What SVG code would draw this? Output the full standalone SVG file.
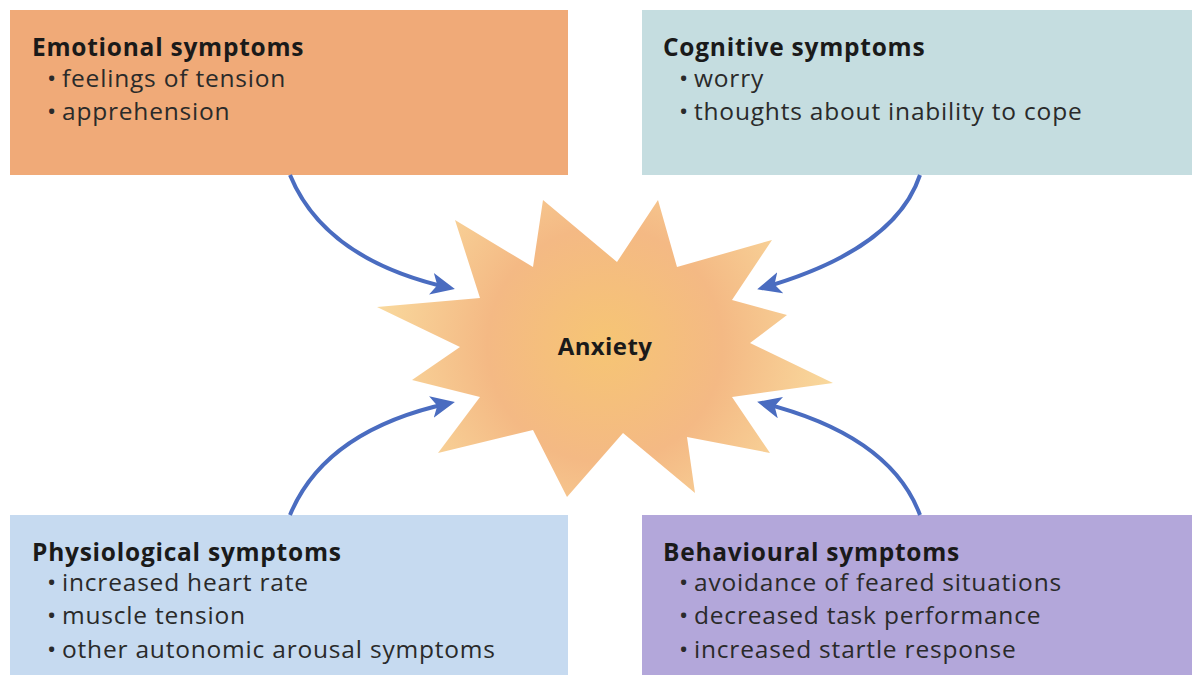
<svg xmlns="http://www.w3.org/2000/svg" width="1192" height="675" viewBox="0 0 1192 675">
<defs>
<style>
.title{font-family:"Open Sans","Noto Sans",sans-serif;font-weight:bold;font-size:24.5px;letter-spacing:0.75px;fill:#1a1a1a}
.item{font-family:"Open Sans","Noto Sans",sans-serif;font-size:24.5px;letter-spacing:0.8px;fill:#2a2a2a}
.conn{fill:none;stroke:#4a6cc0;stroke-width:4;marker-end:url(#ah)}
</style>
<marker id="ah" markerUnits="userSpaceOnUse" markerWidth="26" markerHeight="22" refX="19" refY="11" orient="auto">
<path d="M0,0 L24,11 L0,22 L6,11 Z" fill="#4a6cc0"/>
</marker>
<radialGradient id="burst" cx="605" cy="345" r="235" gradientUnits="userSpaceOnUse">
<stop offset="0" stop-color="#f6c574"/>
<stop offset="0.5" stop-color="#f4b984"/>
<stop offset="1" stop-color="#f9da9e"/>
</radialGradient>
</defs>
<rect width="1192" height="675" fill="#ffffff"/>
<g id="emotional">
<rect x="10" y="10" width="558" height="165" fill="#f0aa78"/>
<text class="title" x="32" y="56">Emotional symptoms</text>
<text class="item" y="87"><tspan x="47">•</tspan><tspan x="62">feelings of tension</tspan></text>
<text class="item" y="120"><tspan x="47">•</tspan><tspan x="62">apprehension</tspan></text>
</g>
<g id="cognitive">
<rect x="642" y="10" width="550" height="165" fill="#c5dde0"/>
<text class="title" x="663" y="56">Cognitive symptoms</text>
<text class="item" y="87"><tspan x="679">•</tspan><tspan x="694">worry</tspan></text>
<text class="item" y="120"><tspan x="679">•</tspan><tspan x="694">thoughts about inability to cope</tspan></text>
</g>
<g id="physiological">
<rect x="10" y="515" width="558" height="160" fill="#c6daf0"/>
<text class="title" x="32" y="561">Physiological symptoms</text>
<text class="item" y="591"><tspan x="47">•</tspan><tspan x="62">increased heart rate</tspan></text>
<text class="item" y="624"><tspan x="47">•</tspan><tspan x="62">muscle tension</tspan></text>
<text class="item" y="658"><tspan x="47">•</tspan><tspan x="62">other autonomic arousal symptoms</tspan></text>
</g>
<g id="behavioural">
<rect x="642" y="515" width="550" height="160" fill="#b3a7da"/>
<text class="title" x="663" y="561">Behavioural symptoms</text>
<text class="item" y="591"><tspan x="679">•</tspan><tspan x="694">avoidance of feared situations</tspan></text>
<text class="item" y="624"><tspan x="679">•</tspan><tspan x="694">decreased task performance</tspan></text>
<text class="item" y="658"><tspan x="679">•</tspan><tspan x="694">increased startle response</tspan></text>
</g>
<g id="anxiety">
<polygon fill="url(#burst)" points="455,220 533,267 543,200 617,262 658,200 677,267 772,240 732,300 787,315 750,343 833,383 732,397 770,453 687,437 695,493 623,433 567,497 533,430 438,453 480,397 412,380 460,347 377,307 480,298"/>
<text x="605" y="355" text-anchor="middle" style="font-family:'Open Sans','Noto Sans',sans-serif;font-weight:bold;font-size:24px;letter-spacing:0.4px;fill:#1a1a1a">Anxiety</text>
</g>
<g id="connectors">
<path class="conn" d="M290,175 Q325,260 450,288"/>
<path class="conn" d="M920,175 Q895,250 762,288"/>
<path class="conn" d="M290,515 Q325,430 450,403"/>
<path class="conn" d="M920,515 Q890,435 762,403"/>
</g>
</svg>
